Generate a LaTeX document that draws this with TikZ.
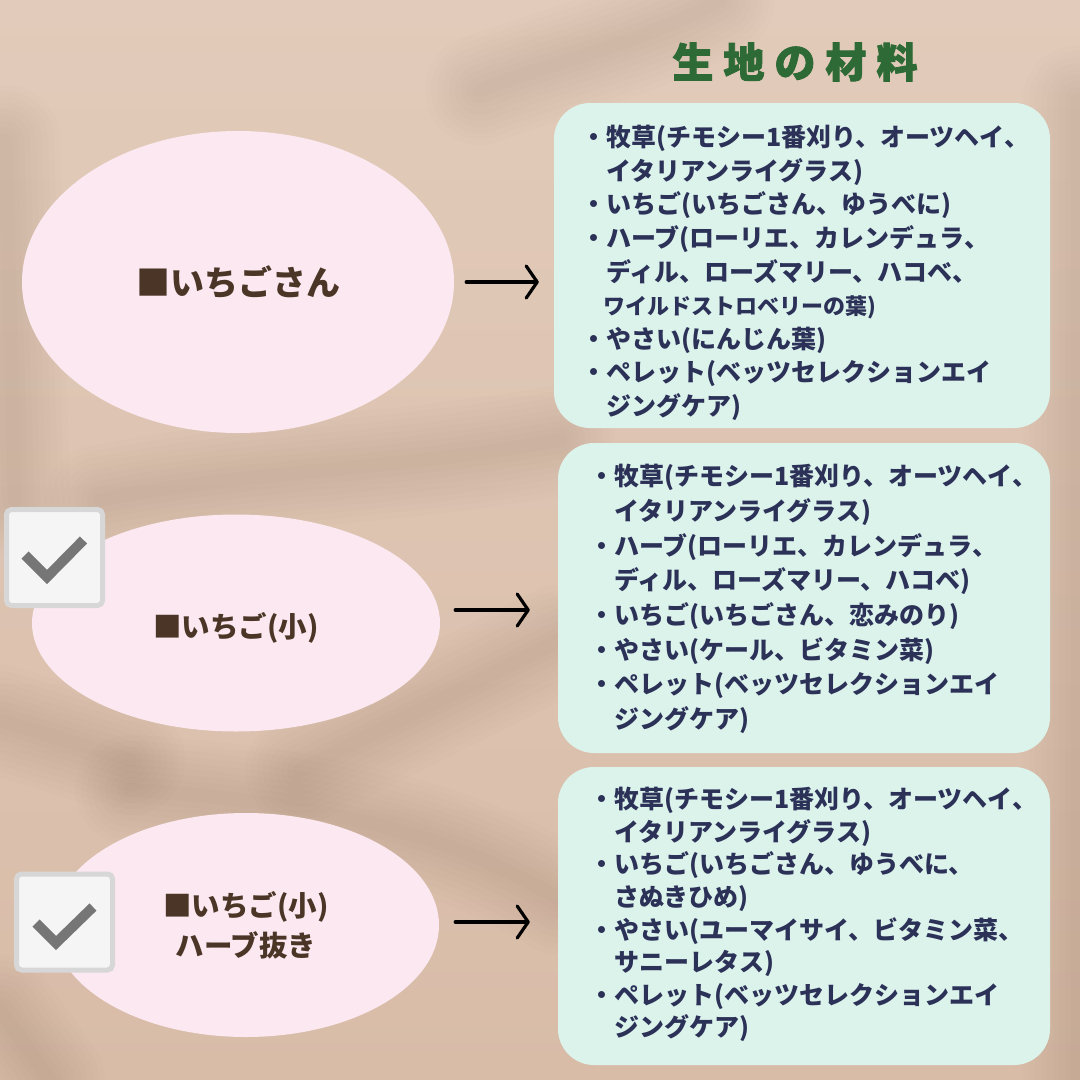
\documentclass[tikz,border=0pt]{standalone}
\usepackage{fontspec}
\setmainfont{Noto Sans CJK JP}
\usetikzlibrary{shapes.geometric,arrows.meta,calc}
\definecolor{bgtop}{HTML}{E2CBBA}
\definecolor{bgbot}{HTML}{D8BCA8}
\definecolor{shade}{HTML}{7A5640}
\definecolor{pinkfill}{HTML}{FBE8F0}
\definecolor{mintfill}{HTML}{DCF3EC}
\definecolor{navy}{HTML}{2B3157}
\definecolor{titlegreen}{HTML}{2E6A36}
\definecolor{brownink}{HTML}{4A3526}
\definecolor{cbborder}{HTML}{D7D7D7}
\definecolor{cbfill}{HTML}{F5F5F5}
\definecolor{checkgray}{HTML}{767676}
\newcommand{\softshadow}[1]{\foreach \w in {110,98,...,14}{\draw[shadowline,line width=\w pt] #1;}}
\begin{document}
\begin{tikzpicture}[x=1pt,y=-1pt,
  shadowline/.style={draw=shade,opacity=0.016,line cap=round,line join=round},
  oval/.style={ellipse,fill=pinkfill,inner sep=0pt,text=brownink,align=center},
  listbox/.style={rectangle,rounded corners=36pt,fill=mintfill,inner sep=0pt},
  listtext/.style={anchor=north west,inner sep=0pt,align=left,text=navy},
  chkbox/.style={rectangle,rounded corners=5pt,draw=cbborder,line width=5pt,fill=cbfill,minimum size=96pt,inner sep=0pt},
  chk/.style={draw=checkgray,line width=10pt,line cap=butt,line join=miter},
  arr/.style={draw=black,line width=3.2pt,line cap=round,-{Straight Barb[length=11pt,width=32pt,round]}},
  titletext/.style={text=titlegreen,font=\fontsize{41}{44}\selectfont\bfseries\addfontfeature{FakeBold=2.2},inner sep=0pt}
]
\useasboundingbox (0,0) rectangle (1080,1080);
% background
\fill[top color=bgtop,bottom color=bgbot] (0,0) rectangle (1080,1080);
\softshadow{(5,140) -- (15,500)}
\softshadow{(100,500) .. controls (250,470) and (400,470) .. (560,440)}
\softshadow{(300,770) -- (560,640)}
\softshadow{(130,790) .. controls (300,800) and (450,830) .. (560,900)}
\softshadow{(0,720) -- (130,760)}
\softshadow{(0,1010) -- (50,1080)}
\softshadow{(1078,100) -- (1078,1080)}
\softshadow{(480,90) .. controls (560,60) and (650,40) .. (720,0)}
% title
\node[titletext] (title) at (795,62) {生\hspace{10pt}地\hspace{10pt}の\hspace{10pt}材\hspace{10pt}料};
% list boxes
\node[listbox,minimum width=496pt,minimum height=325pt] (b1) at (802,265.5) {};
\node[listbox,minimum width=492pt,minimum height=310pt] (b2) at (804,598) {};
\node[listbox,minimum width=492pt,minimum height=298pt] (b3) at (804,916) {};
\node[listtext,font=\fontsize{25}{33.6}\selectfont\bfseries] (l1) at (581,125) {%
・牧草(チモシー1番刈り、オーツヘイ、\\
\hspace*{1em}イタリアンライグラス)\\
・いちご(いちごさん、ゆうべに)\\
・ハーブ(ローリエ、カレンデュラ、\\
\hspace*{1em}ディル、ローズマリー、ハコベ、\\
\hspace*{0.9em}{\fontsize{22}{33.6}\selectfont ワイルドストロベリーの葉)}\\
・やさい(にんじん葉)\\
・ペレット(ベッツセレクションエイ\\
\hspace*{1em}ジングケア)};
\node[listtext,font=\fontsize{25}{34.7}\selectfont\bfseries] (l2) at (589,464) {%
・牧草(チモシー1番刈り、オーツヘイ、\\
\hspace*{1em}イタリアンライグラス)\\
・ハーブ(ローリエ、カレンデュラ、\\
\hspace*{1em}ディル、ローズマリー、ハコベ)\\
・いちご(いちごさん、恋みのり)\\
・やさい(ケール、ビタミン菜)\\
・ペレット(ベッツセレクションエイ\\
\hspace*{1em}ジングケア)};
\node[listtext,font=\fontsize{25}{32.6}\selectfont\bfseries] (l3) at (589,787) {%
・牧草(チモシー1番刈り、オーツヘイ、\\
\hspace*{1em}イタリアンライグラス)\\
・いちご(いちごさん、ゆうべに、\\
\hspace*{1em}さぬきひめ)\\
・やさい(ユーマイサイ、ビタミン菜、\\
\hspace*{1em}サニーレタス)\\
・ペレット(ベッツセレクションエイ\\
\hspace*{1em}ジングケア)};
% ellipses
\node[oval,minimum width=432pt,minimum height=302pt,font=\fontsize{34}{40}\selectfont\bfseries] (e1) at (238,282) {■いちごさん};
\node[oval,minimum width=408pt,minimum height=217pt,text height=20pt,text depth=5pt,font=\fontsize{28.5}{40}\selectfont\bfseries] (e2) at (236,623) {\raisebox{-7pt}{■いちご(小)}};
\node[oval,minimum width=386pt,minimum height=224pt,font=\fontsize{28.5}{40}\selectfont\bfseries] (e3) at (246,925) {■いちご(小)\\ハーブ抜き};
% checkboxes
\node[chkbox] (c2) at (54.5,557.5) {};
\draw[chk] ($(c2.center)+(-29.5,-2.5)$) -- ($(c2.center)+(-7.5,19.5)$) -- ($(c2.center)+(29,-17.5)$);
\node[chkbox] (c3) at (64.5,922) {};
\draw[chk] ($(c3.center)+(-28.5,1)$) -- ($(c3.center)+(-8.5,21)$) -- ($(c3.center)+(28.5,-15)$);
% arrows
\draw[arr,shorten <=12pt,shorten >=15pt] (e1.east) -- (e1.east -| b1.west);
\draw[arr,shorten <=15pt,shorten >=28pt] ($(e2.east)+(0,-13)$) -- ($(e2.east -| b2.west)+(0,-13)$);
\draw[arr,shorten <=16pt,shorten >=28pt] ($(e3.east)+(0,-3)$) -- ($(e3.east -| b3.west)+(0,-3)$);
\end{tikzpicture}
\end{document}
